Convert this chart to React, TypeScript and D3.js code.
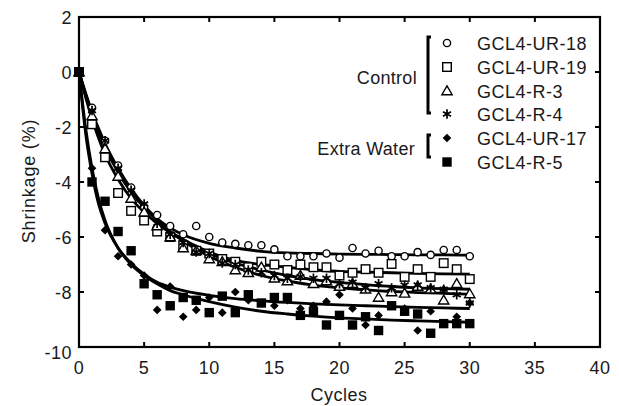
import React from "react";
import * as d3 from "d3";

const cycles = d3.range(0, 31);

const ur18 = [0, -1.3, -2.5, -3.4, -4.2, -4.9, -5.2, -5.6, -5.9, -5.6, -6.0, -6.2, -6.25, -6.3, -6.3, -6.45, -6.7, -6.7, -6.7, -6.6, -6.75, -6.4, -6.6, -6.5, -6.7, -6.7, -6.55, -6.65, -6.47, -6.47, -6.7];
const ur19 = [0, -1.9, -3.1, -4.4, -5.05, -5.4, -5.8, -6.0, -6.3, -6.5, -6.6, -6.8, -6.9, -7.1, -6.9, -7.0, -7.2, -7.0, -7.1, -7.1, -7.4, -7.3, -7.17, -7.3, -6.98, -7.45, -7.17, -7.45, -6.95, -7.17, -7.53];
const r3 = [0, -1.6, -2.8, -3.8, -4.6, -5.1, -5.6, -6.0, -6.4, -6.5, -6.8, -6.9, -7.2, -7.3, -7.1, -7.5, -7.6, -7.4, -7.7, -7.6, -7.8, -7.7, -7.9, -8.2, -8.0, -8.05, -7.8, -7.9, -8.3, -7.7, -8.07];
const r4 = [0, -1.4, -2.5, -3.5, -4.3, -4.8, -5.5, -5.9, -6.2, -6.55, -6.6, -6.95, -7.0, -7.2, -7.3, -7.4, -7.5, -7.45, -7.5, -7.5, -7.7, -7.65, -7.85, -7.7, -7.85, -7.75, -7.75, -7.85, -7.9, -8.1, -8.4];
const ur17 = [0, -3.5, -5.75, -6.7, -7.0, -7.4, -8.65, -7.8, -8.9, -8.65, -8.2, -8.75, -8.0, -8.3, -8.4, -8.5, -8.3, -8.6, -8.5, -8.35, -8.1, -8.6, -9.2, -8.85, -8.5, -8.6, -9.4, -8.7, -7.9, -8.9, -8.4];
const r5 = [0, -4.0, -4.7, -5.8, -6.5, -7.7, -8.1, -8.5, -8.2, -8.3, -8.75, -8.15, -8.75, -8.1, -8.4, -8.2, -8.2, -8.85, -8.7, -9.2, -8.85, -9.2, -8.9, -9.4, -8.5, -8.7, -8.8, -9.5, -9.15, -9.15, -9.15];

// fitted trend lines
const fitCycles = [0, 0.5, 1, 1.5, 2, 3, 4, 5, 6, 7, 8, 10, 12, 14, 16, 18, 20, 22, 24, 26, 28, 30];
const fitUr18 = [0, -0.82, -1.54, -2.17, -2.72, -3.65, -4.37, -4.92, -5.34, -5.67, -5.92, -6.23, -6.4, -6.52, -6.58, -6.6, -6.62, -6.63, -6.64, -6.65, -6.65, -6.66];
const fitUr19 = [0, -0.9, -1.7, -2.4, -3.0, -3.9, -4.6, -5.1, -5.5, -5.85, -6.1, -6.55, -6.85, -7.0, -7.1, -7.2, -7.25, -7.28, -7.3, -7.32, -7.34, -7.35];
const fitR3 = [0, -0.8, -1.5, -2.1, -2.7, -3.6, -4.3, -4.9, -5.4, -5.8, -6.1, -6.6, -6.95, -7.2, -7.4, -7.55, -7.65, -7.73, -7.8, -7.85, -7.88, -7.9];
const fitR4 = [0, -0.75, -1.45, -2.05, -2.6, -3.5, -4.25, -4.85, -5.35, -5.8, -6.15, -6.7, -7.1, -7.4, -7.6, -7.75, -7.85, -7.92, -7.98, -8.02, -8.05, -8.08];
const fitUr17 = [0, -2.2, -3.7, -4.8, -5.5, -6.4, -6.95, -7.35, -7.65, -7.82, -7.95, -8.12, -8.24, -8.32, -8.38, -8.43, -8.47, -8.5, -8.53, -8.56, -8.58, -8.6];
const fitR5 = [0, -2.0, -3.5, -4.6, -5.4, -6.4, -7.0, -7.4, -7.7, -7.95, -8.1, -8.35, -8.55, -8.7, -8.8, -8.88, -8.94, -8.98, -9.02, -9.05, -9.08, -9.1];

const seriesNames = ["GCL4-UR-18", "GCL4-UR-19", "GCL4-R-3", "GCL4-R-4", "GCL4-UR-17", "GCL4-R-5"];
const seriesValues = [ur18, ur19, r3, r4, ur17, r5];
const seriesFits = [fitUr18, fitUr19, fitR3, fitR4, fitUr17, fitR5];
const markerKinds = ["circle", "square", "triangle", "asterisk", "diamond", "filledSquare"];

const xTicks = [0, 5, 10, 15, 20, 25, 30, 35, 40];
const yTicks = [2, 0, -2, -4, -6, -8, -10];

const W = 619;
const H = 406;
const left = 79;
const right = 600;
const top = 17;
const bottom = 347;
const FONT = "'Liberation Sans', Arial, Helvetica, sans-serif";
const TXT = "#1a1a1a";

function Marker({ kind, x, y }: { kind: string; x: number; y: number }) {
  const sw = 1.4;
  if (kind === "circle") {
    return <circle cx={x} cy={y} r={3.6} fill="white" stroke="black" strokeWidth={sw} />;
  }
  if (kind === "square") {
    return <rect x={x - 4.3} y={y - 4.3} width={8.6} height={8.6} fill="white" stroke="black" strokeWidth={sw} />;
  }
  if (kind === "filledSquare") {
    return <rect x={x - 4.7} y={y - 4.7} width={9.4} height={9.4} fill="black" />;
  }
  if (kind === "triangle") {
    const p = d3.symbol().type(d3.symbolTriangle).size(46)() as string;
    return <path d={p} transform={`translate(${x},${y + 0.8})`} fill="white" stroke="black" strokeWidth={sw} />;
  }
  if (kind === "asterisk") {
    const p = d3.symbol().type(d3.symbolAsterisk).size(60)() as string;
    return <path d={p} transform={`translate(${x},${y})`} fill="none" stroke="black" strokeWidth={1.7} />;
  }
  // filled diamond
  const p = d3.symbol().type(d3.symbolSquare).size(38)() as string;
  return <path d={p} transform={`translate(${x},${y}) rotate(45)`} fill="black" />;
}

export default function App() {
  const x = d3.scaleLinear().domain([0, 40]).range([left, right]);
  const y = d3.scaleLinear().domain([-10, 2]).range([bottom, top]);
  const line = d3
    .line<number>()
    .x((_, i) => x(fitCycles[i]))
    .y((d) => y(d))
    .curve(d3.curveMonotoneX);

  const legendX = 447;
  const legendText = 477;
  const legendY = [43, 67, 91, 114, 138, 162];

  return (
    <svg width={W} height={H} style={{ position: "absolute", left: 0, top: 0, background: "white" }} fontFamily={FONT}>
      <rect x={0} y={0} width={W} height={H} fill="white" />
      {seriesFits.map((f, i) => (
        <path key={"f" + i} d={line(f) as string} fill="none" stroke="black" strokeWidth={2.8} />
      ))}
      {seriesValues.map((vals, si) =>
        vals.map((v, i) => <Marker key={si + "-" + i} kind={markerKinds[si]} x={x(cycles[i])} y={y(v)} />)
      )}
      <rect x={left} y={top} width={right - left} height={bottom - top} fill="none" stroke="black" strokeWidth={2.2} />
      {xTicks.map((t) => (
        <g key={"xt" + t}>
          <line x1={x(t)} x2={x(t)} y1={bottom} y2={bottom - 5} stroke="black" strokeWidth={2} />
          <line x1={x(t)} x2={x(t)} y1={top} y2={top + 5} stroke="black" strokeWidth={2} />
          <text x={x(t)} y={374} textAnchor="middle" fontSize={18} letterSpacing={0.5} fill={TXT}>
            {t}
          </text>
        </g>
      ))}
      {yTicks.map((t) => (
        <g key={"yt" + t}>
          <line x1={left} x2={left + 5} y1={y(t)} y2={y(t)} stroke="black" strokeWidth={2} />
          <line x1={right} x2={right - 5} y1={y(t)} y2={y(t)} stroke="black" strokeWidth={2} />
          <text x={72} y={y(t) + (t === -10 ? 12 : 7)} textAnchor="end" fontSize={18} letterSpacing={0.5} fill={TXT}>
            {t}
          </text>
        </g>
      ))}
      <text x={339} y={401} textAnchor="middle" fontSize={18} letterSpacing={0.5} fill={TXT}>
        Cycles
      </text>
      <text transform={`translate(35,181) rotate(-90)`} textAnchor="middle" fontSize={18} letterSpacing={0.8} fill={TXT}>
        Shrinkage (%)
      </text>
      {seriesNames.map((n, i) => (
        <g key={"lg" + i}>
          <Marker kind={markerKinds[i]} x={legendX} y={legendY[i]} />
          <text x={legendText} y={legendY[i] + 6.5} fontSize={18} letterSpacing={0.5} fill={TXT}>
            {n}
          </text>
        </g>
      ))}
      <text x={417} y={84} textAnchor="end" fontSize={18} letterSpacing={0.3} fill={TXT}>
        Control
      </text>
      <path d="M431,37 H428 V113 H431" fill="none" stroke="black" strokeWidth={3} />
      <text x={415} y={155} textAnchor="end" fontSize={18} letterSpacing={0.3} fill={TXT}>
        Extra Water
      </text>
      <path d="M431,135 H428 V157 H431" fill="none" stroke="black" strokeWidth={3} />
    </svg>
  );
}
